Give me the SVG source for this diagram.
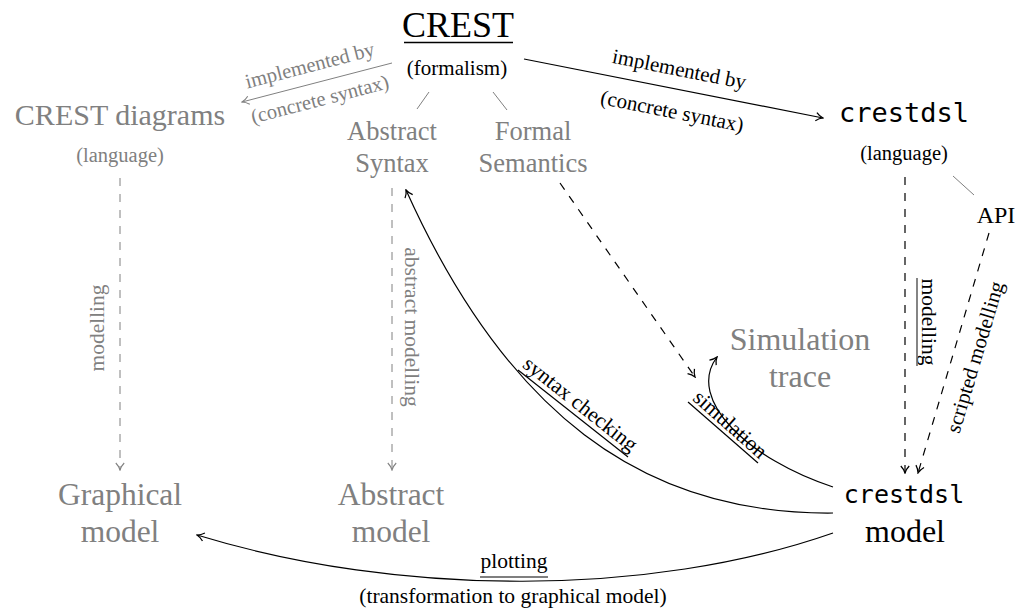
<svg xmlns="http://www.w3.org/2000/svg" width="1019" height="615" viewBox="0 0 1019 615">
<style>
.t{font-family:"Liberation Serif","Times New Roman",serif;text-anchor:middle}
.m{font-family:"DejaVu Sans Mono","Liberation Mono",monospace;text-anchor:middle}
.g{fill:#808080}
.k{fill:#000}
.e{fill:none;stroke:#000;stroke-width:1.2}
.eg{fill:none;stroke:#808080;stroke-width:1}
.d{stroke-dasharray:8 8}
</style>
<defs>
<marker id="ak" viewBox="-9 -5 10 10" refX="0" refY="0" markerWidth="10" markerHeight="10" markerUnits="userSpaceOnUse" orient="auto">
<path d="M-7,-4.2 C-4.5,-1.8 -1.8,-0.5 0,0 C-1.8,0.5 -4.5,1.8 -7,4.2" fill="none" stroke="#000" stroke-width="1.25"/>
</marker>
<marker id="ag" viewBox="-9 -5 10 10" refX="0" refY="0" markerWidth="10" markerHeight="10" markerUnits="userSpaceOnUse" orient="auto">
<path d="M-7,-4.2 C-4.5,-1.8 -1.8,-0.5 0,0 C-1.8,0.5 -4.5,1.8 -7,4.2" fill="none" stroke="#808080" stroke-width="1.1"/>
</marker>
</defs>
<rect width="1019" height="615" fill="#fff"/>

<g id="crest">
<text class="t k" x="458" y="37" font-size="36">CREST</text>
<line x1="404" y1="42.5" x2="513" y2="42.5" stroke="#000" stroke-width="1.5"/>
<text class="t k" x="457" y="75" font-size="21">(formalism)</text>
</g>
<g id="crest-diagrams">
<text class="t g" x="120" y="125" font-size="30">CREST diagrams</text>
<text class="t g" x="120" y="162" font-size="20.5">(language)</text>
</g>
<g id="abstract-syntax">
<text class="t g" x="392" y="140" font-size="26.5">Abstract</text>
<text class="t g" x="392" y="172" font-size="26.5">Syntax</text>
</g>
<g id="formal-semantics">
<text class="t g" x="533" y="140" font-size="26.5">Formal</text>
<text class="t g" x="533" y="172" font-size="26.5">Semantics</text>
</g>
<g id="crestdsl-language">
<text class="m k" x="904" y="122" font-size="27">crestdsl</text>
<text class="t k" x="904" y="160" font-size="20.5">(language)</text>
</g>
<g id="api">
<text class="t k" x="996" y="223" font-size="24">API</text>
</g>
<g id="simulation-trace">
<text class="t g" x="800" y="350" font-size="32">Simulation</text>
<text class="t g" x="800" y="387" font-size="32">trace</text>
</g>
<g id="graphical-model">
<text class="t g" x="120" y="505" font-size="31.5">Graphical</text>
<text class="t g" x="120" y="542" font-size="31.5">model</text>
</g>
<g id="abstract-model">
<text class="t g" x="391" y="505" font-size="31.5">Abstract</text>
<text class="t g" x="391" y="542" font-size="31.5">model</text>
</g>
<g id="crestdsl-model">
<text class="m k" x="904" y="503" font-size="25">crestdsl</text>
<text class="t k" x="905" y="542" font-size="32">model</text>
</g>

<g id="connectors">
<!-- part-of lines -->
<line class="eg" x1="429" y1="92" x2="417" y2="109"/>
<line class="eg" x1="493" y1="92" x2="507" y2="110"/>
<line class="eg" x1="953" y1="176" x2="974" y2="195"/>

<!-- implemented by (left, gray) -->
<line class="eg" x1="392" y1="63" x2="242" y2="102" marker-end="url(#ag)"/>
<g transform="translate(310,66) rotate(-14.6)"><text class="t g" x="0" y="6" font-size="20.5">implemented by</text></g>
<g transform="translate(320,100) rotate(-14.6)"><text class="t g" x="0" y="6" font-size="20.5">(concrete syntax)</text></g>

<!-- implemented by (right) -->
<line class="e" x1="524" y1="59" x2="823" y2="118" marker-end="url(#ak)"/>
<g transform="translate(679,70) rotate(11.2)"><text class="t k" x="0" y="6" font-size="21">implemented by</text></g>
<g transform="translate(672,112) rotate(11.2)"><text class="t k" x="0" y="6" font-size="21">(concrete syntax)</text></g>

<!-- modelling (gray) -->
<line class="eg d" x1="120" y1="178" x2="120" y2="470" marker-end="url(#ag)"/>
<g transform="translate(97,328) rotate(-90)"><text class="t g" x="0" y="7" font-size="21.5">modelling</text></g>

<!-- abstract modelling -->
<line class="eg d" x1="392" y1="188" x2="392" y2="470" marker-end="url(#ag)"/>
<g transform="translate(412,327) rotate(90)"><text class="t g" x="0" y="7" font-size="21.5">abstract modelling</text></g>

<!-- semantics to simulation -->
<line class="e d" x1="560" y1="183" x2="695" y2="377" marker-end="url(#ak)"/>

<!-- crestdsl modelling -->
<line class="e d" x1="905" y1="177" x2="905" y2="473" marker-end="url(#ak)"/>
<g transform="translate(929,322) rotate(90)"><text class="t k" x="0" y="7" font-size="21.5">modelling</text></g>
<line x1="917" y1="278" x2="917" y2="366" stroke="#666" stroke-width="1.6"/>

<!-- scripted modelling -->
<line class="e d" x1="989" y1="233" x2="918" y2="473" marker-end="url(#ak)"/>
<g transform="translate(975,357) rotate(-73.4)"><text class="t k" x="0" y="7" font-size="21">scripted modelling</text></g>

<!-- syntax checking -->
<path class="e" d="M833,513 C640,515 505,410 406,190" marker-end="url(#ak)"/>
<g transform="translate(573,413.5) rotate(38.3)"><text class="t k" x="0" y="-5" font-size="21.5">syntax checking</text></g>
<line x1="518" y1="370" x2="628" y2="457" stroke="#000" stroke-width="1.2"/>

<!-- simulation -->
<path class="e" d="M833,487 C750,460 685,400 717,357" marker-end="url(#ak)"/>
<g transform="translate(723,432.5) rotate(41.5)"><text class="t k" x="0" y="-4" font-size="21.5">simulation</text></g>
<line x1="688" y1="402" x2="758" y2="463" stroke="#000" stroke-width="1.2"/>

<!-- plotting -->
<path class="e" d="M833,533 C650,597 400,597 197,535" marker-end="url(#ak)"/>
<text class="t k" x="514" y="568" font-size="21.5">plotting</text>
<line x1="480" y1="577" x2="548" y2="577" stroke="#000" stroke-width="1.2"/>
<text class="t k" x="513" y="603" font-size="21.5">(transformation to graphical model)</text>
</g>
</svg>
